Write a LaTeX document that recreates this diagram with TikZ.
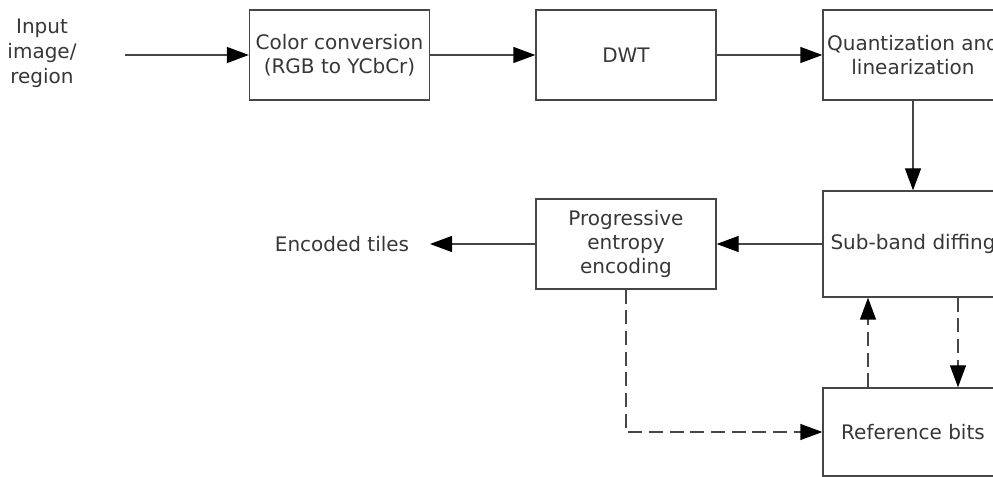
\documentclass[tikz,border=0pt]{standalone}
\usepackage{fontspec}
\setmainfont{DejaVu Sans}
\usetikzlibrary{arrows.meta}
\usetikzlibrary{shapes,positioning}

\definecolor{linegray}{RGB}{70,70,70}
\definecolor{textgray}{RGB}{55,55,55}

\begin{document}
\begin{tikzpicture}[x=0.75pt, y=-0.75pt]
            \tikzstyle{block} = [draw=linegray, line width=1pt, minimum width=135pt, minimum height=67.5pt, inner sep=0pt, align=center, text=textgray, font=\fontsize{15}{17.8}\selectfont]
            \tikzstyle{plain} = [align=center, text=textgray, font=\fontsize{15}{18.8}\selectfont]
            \tikzstyle{arrow} = [line width=1pt, draw=linegray, -{Triangle[length=16.5pt, width=12pt, color=black]}]
            \tikzstyle{dasharrow} = [arrow, dash pattern=on 10.5pt off 5pt]
            
            \useasboundingbox (0, 0) rectangle (993, 477);
            \clip (0, 0) rectangle (993, 477);
            
            % top row
            \node[plain] (input) at (42, 53) {Input\\image/\\region};
            \node[block] (color) at (339.5, 55) {Color conversion\\(RGB to YCbCr)};
            \node[block] (dwt) at (626, 55) {DWT};
            \node[block] (quant) at (913, 55) {Quantization and\\linearization};
            
            % middle row
            \node[plain] (tiles) at (342, 244) {Encoded tiles};
            \node[block] (entropy) at (626, 244) {Progressive\\entropy\\encoding};
            \node[block, minimum height=79.5pt] (diff) at (913, 244) {Sub-band diffing};
            
            % bottom row
            \node[block, minimum height=66pt] (refbits) at (913, 432) {Reference bits};
            
            \coordinate (start) at (125, 55);
            \coordinate (stop) at (430, 244);
            \coordinate (up) at (868, 0);
            \coordinate (down) at (958, 0);
            
            \draw [arrow] (start) -- (color);
            \draw [arrow] (color) -- (dwt);
            \draw [arrow] (dwt) -- (quant);
            \draw [arrow] (quant) -- (diff);
            \draw [arrow] (diff) -- (entropy);
            \draw [arrow] (entropy) -- (stop);
            
            \draw [dasharrow] (entropy.south) |- (refbits.west);
            \draw [dasharrow] (refbits.north -| up) -- (diff.south -| up);
            \draw [dasharrow] (diff.south -| down) -- (refbits.north -| down);
        \end{tikzpicture}
\end{document}
